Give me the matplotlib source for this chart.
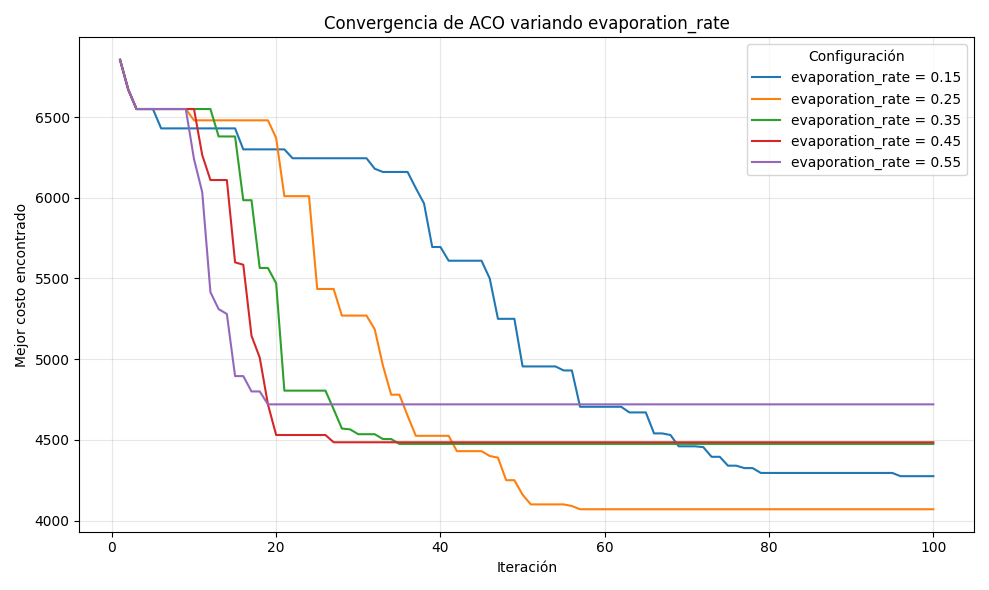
import numpy as np
import matplotlib.pyplot as plt


# valores leidos: iteracion donde cambia el mejor costo -> nuevo costo
start = {1: 6855, 2: 6670, 3: 6550}
changes = {
    0.15: {6: 6430, 16: 6300, 22: 6245, 32: 6180, 33: 6160, 37: 6060, 38: 5965, 39: 5695,
           41: 5610, 46: 5500, 47: 5250, 50: 4955, 55: 4930, 57: 4705, 63: 4670, 66: 4540,
           68: 4530, 69: 4460, 72: 4455, 73: 4395, 75: 4340, 77: 4325, 79: 4295, 96: 4275},
    0.25: {10: 6480, 20: 6370, 21: 6010, 25: 5435, 28: 5270, 32: 5185, 33: 4960, 34: 4780,
           36: 4650, 37: 4525, 42: 4430, 46: 4400, 47: 4390, 48: 4250, 50: 4160, 51: 4100,
           56: 4090, 57: 4070},
    0.35: {13: 6380, 16: 5985, 18: 5565, 20: 5470, 21: 4805, 27: 4690, 28: 4570, 29: 4565,
           30: 4535, 33: 4505, 35: 4475},
    0.45: {11: 6265, 12: 6110, 15: 5600, 16: 5585, 17: 5145, 18: 5010, 19: 4720, 20: 4530,
           27: 4485},
    0.55: {10: 6240, 11: 6035, 12: 5415, 13: 5310, 14: 5280, 15: 4895, 17: 4800, 19: 4720},
}

iters = np.arange(1, 101)

fig, ax = plt.subplots(figsize=(9.89, 5.9), dpi=100)

for rate, ch in changes.items():
    pts = {**start, **ch}
    costs = []
    current = None
    for i in iters:
        if i in pts:
            current = pts[i]
        costs.append(current)
    ax.plot(iters, costs, label=f'evaporation_rate = {rate}')

ax.set_xlabel('Iteración')
ax.set_ylabel('Mejor costo encontrado')
ax.set_title('Convergencia de ACO variando evaporation_rate')
ax.grid(True, alpha=0.3)
ax.legend(title='Configuración')

plt.tight_layout()
plt.savefig('out.png')
